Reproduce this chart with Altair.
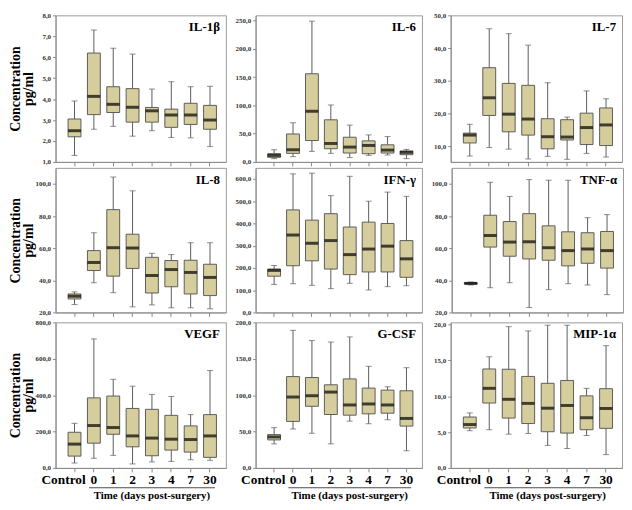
import altair as alt
import pandas as pd

categories = ["Control", "0", "1", "2", "3", "4", "7", "30"]

# five-number summaries (whisker low, Q1, median, Q3, whisker high)
il1b_lo  = [1.31, 2.56, 2.70, 2.23, 2.49, 2.17, 2.15, 1.73]
il1b_q1  = [2.20, 3.26, 3.36, 2.90, 2.90, 2.65, 2.79, 2.56]
il1b_med = [2.49, 4.13, 3.75, 3.61, 3.44, 3.24, 3.24, 3.00]
il1b_q3  = [3.05, 6.20, 4.59, 4.50, 3.60, 3.52, 3.80, 3.70]
il1b_hi  = [3.91, 7.30, 6.43, 6.15, 4.48, 4.83, 4.59, 4.61]

il6_lo  = [5.8, 9.3, 18.6, 15.1, 7.6, 11.6, 12.2, 5.8]
il6_q1  = [8.1, 15.1, 37.8, 23.3, 15.7, 14.5, 15.7, 12.8]
il6_med = [11.6, 21.5, 89.5, 32.6, 26.2, 29.1, 20.9, 16.9]
il6_q3  = [14.5, 49.4, 155.8, 74.4, 43.6, 37.2, 30.2, 19.2]
il6_hi  = [21.5, 69.2, 248.8, 100.6, 65.1, 47.7, 44.8, 22.1]

il7_lo  = [7.0, 9.6, 9.1, 6.1, 6.9, 6.0, 7.8, 6.7]
il7_q1  = [11.0, 19.4, 14.4, 13.4, 9.2, 11.9, 10.5, 10.2]
il7_med = [13.4, 24.8, 19.8, 18.3, 12.9, 12.8, 15.7, 16.5]
il7_q3  = [14.0, 34.0, 29.2, 28.6, 18.4, 18.1, 20.1, 21.7]
il7_hi  = [16.7, 45.9, 44.4, 40.9, 29.4, 18.9, 26.9, 24.5]

il8_lo  = [24.9, 38.5, 32.3, 23.5, 24.7, 22.9, 22.9, 22.3]
il8_q1  = [28.4, 46.1, 42.6, 47.4, 32.1, 36.0, 31.5, 30.5]
il8_med = [30.1, 51.1, 60.3, 60.1, 43.0, 46.7, 44.9, 41.8]
il8_q3  = [31.5, 58.5, 84.0, 68.7, 54.3, 52.3, 52.5, 50.0]
il8_hi  = [32.8, 69.6, 104.3, 95.7, 56.8, 56.0, 63.4, 63.4]

ifng_lo  = [126, 129, 122, 107, 131, 101, 116, 120]
ifng_q1  = [163, 210, 232, 195, 170, 182, 182, 158]
ifng_med = [189, 348, 311, 323, 260, 285, 298, 241]
ifng_q3  = [195, 461, 415, 444, 384, 406, 400, 323]
ifng_hi  = [211, 623, 626, 525, 612, 500, 541, 522]

tnfa_lo  = [37.1, 35.4, 38.5, 23.1, 34.2, 37.9, 37.1, 31.1]
tnfa_q1  = [37.7, 60.7, 55.0, 53.3, 52.5, 49.0, 50.6, 47.6]
tnfa_med = [38.1, 67.9, 63.8, 64.0, 60.3, 58.5, 59.5, 58.5]
tnfa_q3  = [38.5, 80.5, 76.6, 81.5, 73.9, 70.2, 69.6, 70.4]
tnfa_hi  = [38.9, 101.0, 92.2, 102.7, 102.3, 102.3, 79.0, 80.9]

vegf_lo  = [27, 53, 69, 22, 33, 36, 45, 42]
vegf_q1  = [65, 136, 185, 116, 67, 98, 87, 58]
vegf_med = [131, 233, 222, 176, 164, 158, 156, 176]
vegf_q3  = [196, 385, 395, 327, 322, 289, 231, 293]
vegf_hi  = [245, 709, 487, 449, 404, 393, 293, 535]

gcsf_lo  = [33.1, 53.5, 47.6, 33.1, 64.3, 60.7, 66.2, 23.6]
gcsf_q1  = [38.5, 63.9, 84.7, 73.4, 72.5, 74.3, 75.2, 57.5]
gcsf_med = [42.6, 97.4, 99.2, 104.2, 86.5, 87.9, 86.5, 68.0]
gcsf_q3  = [45.8, 125.5, 124.2, 114.2, 122.3, 109.7, 106.9, 106.0]
gcsf_hi  = [55.3, 189.0, 175.0, 173.0, 180.0, 139.6, 111.5, 137.7]

mip_lo  = [5.19, 5.33, 4.71, 4.81, 3.14, 2.71, 4.52, 1.86]
mip_q1  = [5.57, 9.05, 6.95, 6.19, 5.05, 4.86, 5.33, 5.52]
mip_med = [6.05, 11.1, 9.57, 9.00, 8.33, 8.71, 7.00, 8.29]
mip_q3  = [7.10, 13.8, 13.76, 12.76, 11.8, 12.2, 10.05, 11.05]
mip_hi  = [7.67, 15.5, 19.7, 19.1, 19.9, 19.9, 11.1, 17.05]

panel_names = ["IL-1β", "IL-6", "IL-7", "IL-8", "IFN-γ", "TNF-α", "VEGF", "G-CSF", "MIP-1α"]
panel_stats = [
    (il1b_lo, il1b_q1, il1b_med, il1b_q3, il1b_hi),
    (il6_lo, il6_q1, il6_med, il6_q3, il6_hi),
    (il7_lo, il7_q1, il7_med, il7_q3, il7_hi),
    (il8_lo, il8_q1, il8_med, il8_q3, il8_hi),
    (ifng_lo, ifng_q1, ifng_med, ifng_q3, ifng_hi),
    (tnfa_lo, tnfa_q1, tnfa_med, tnfa_q3, tnfa_hi),
    (vegf_lo, vegf_q1, vegf_med, vegf_q3, vegf_hi),
    (gcsf_lo, gcsf_q1, gcsf_med, gcsf_q3, gcsf_hi),
    (mip_lo, mip_q1, mip_med, mip_q3, mip_hi),
]
y_domains = [[1, 8], [0, 259], [5.2, 50], [20, 110], [0, 650], [20, 110], [0, 800], [0, 200], [0, 20.3]]
y_ticks = [
    [1, 2, 3, 4, 5, 6, 7, 8],
    [0, 50, 100, 150, 200, 250],
    [10, 20, 30, 40, 50],
    [20, 40, 60, 80, 100],
    [0, 100, 200, 300, 400, 500, 600],
    [20, 40, 60, 80, 100],
    [0, 200, 400, 600, 800],
    [0, 50, 100, 150, 200],
    [0, 5, 10, 15, 20],
]
y_title = ["Concentration", "pg/ml"]
x_title = "Time (days post-surgery)"
title_anchor = "3"   # centre of the 0..30 group, where the bracket line and title sit

widths = [172, 168, 173]
heights = [148, 146, 147]
PAD_OUTER = 0.4

SERIF = "Liberation Serif"
FILL = "#d5cd9b"
EDGE = "#5c5c5c"
GRAY = "#8a8a8a"
LABEL_EXPR = "replace(format(datum.value, '.1f'), '.', ',')"


def panel(i):
    row, col = divmod(i, 3)
    W, H = widths[col], heights[row]
    lo, q1, med, q3, hi = panel_stats[i]
    df = pd.DataFrame({"cat": categories, "lo": lo, "q1": q1, "med": med, "q3": q3, "hi": hi})
    bottom = row == 2
    xscale = alt.Scale(type="band", domain=categories, paddingInner=0, paddingOuter=PAD_OUTER, align=0.6)
    xaxis = alt.Axis(
        title=None, labels=bottom, ticks=True, tickSize=4, tickColor=GRAY, domainColor=GRAY,
        labelFont=SERIF, labelFontWeight="bold", labelFontSize=13.5, labelColor="black",
        labelPadding=1, labelAngle=0, grid=False, labelOverlap=False,
        labelOffset={"condition": {"test": "datum.value === 'Control'", "value": -11}, "value": 0},
    )
    yscale = alt.Scale(domain=y_domains[i], nice=False, zero=False)
    yaxis = alt.Axis(
        title=y_title if col == 0 else None, values=y_ticks[i], tickCount=len(y_ticks[i]),
        labelExpr=LABEL_EXPR,
        labelFont=SERIF, labelFontWeight="bold", labelFontSize=7, labelColor="#333",
        labelOverlap=False, labelPadding=2,
        tickSize=3, tickColor=GRAY, domainColor=GRAY, grid=False,
        minExtent=20, maxExtent=20,
        titleFont=SERIF, titleFontWeight="bold", titleFontSize=14, titleColor="black",
        titleLineHeight=13, titlePadding=0,
    )
    base = alt.Chart(df).encode(x=alt.X("cat:N", sort=categories, scale=xscale, axis=xaxis))
    whisk = base.mark_rule(color=EDGE, strokeWidth=1).encode(
        y=alt.Y("lo:Q", scale=yscale, axis=yaxis), y2="hi:Q")
    cap_lo = base.mark_tick(color=EDGE, size=6, thickness=1).encode(y="lo:Q")
    cap_hi = base.mark_tick(color=EDGE, size=6, thickness=1).encode(y="hi:Q")
    box = base.mark_bar(size=13, fill=FILL, stroke=EDGE, strokeWidth=1).encode(y="q1:Q", y2="q3:Q")
    mid = base.mark_tick(color="black", size=13, thickness=3).encode(y="med:Q")
    label = alt.Chart(pd.DataFrame({"name": [panel_names[i]]})).mark_text(
        font=SERIF, fontWeight="bold", fontSize=13, align="right", baseline="middle", color="black"
    ).encode(text="name:N", x=alt.value(W - 6), y=alt.value(12))
    layers = [whisk, cap_lo, cap_hi, box, mid, label]
    if bottom:
        step = W / (len(categories) + 2 * PAD_OUTER)
        tdf = pd.DataFrame({"t": [x_title], "c": [title_anchor]})
        line = alt.Chart(tdf).mark_tick(
            color="black", thickness=1.2, size=6.5 * step, orient="horizontal"
        ).encode(x=alt.X("c:N", sort=categories), y=alt.value(H + 20))
        ttl = alt.Chart(tdf).mark_text(
            font=SERIF, fontWeight="bold", fontSize=11, align="center", baseline="middle", color="black"
        ).encode(x=alt.X("c:N", sort=categories), text="t:N", y=alt.value(H + 28))
        layers += [line, ttl]
    return alt.layer(*layers).properties(width=W, height=H)


rows = [alt.hconcat(*[panel(r * 3 + c) for c in range(3)], spacing=7) for r in range(3)]
chart = alt.vconcat(*rows, spacing=0).properties(
    padding={"left": 0, "top": 0, "right": 0, "bottom": 0},
    background="white",
).configure_view(stroke="#9a9a9a", strokeWidth=1)

chart.save("out.html", embed_options={"renderer": "svg", "actions": False})
